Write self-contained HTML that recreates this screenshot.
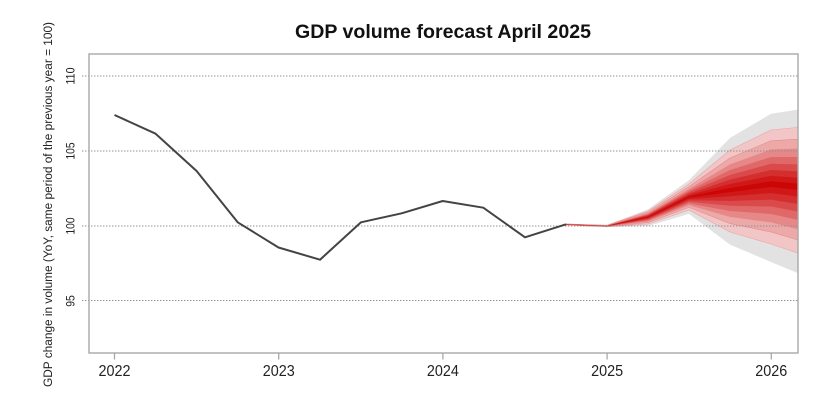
<!DOCTYPE html>
<html>
<head>
<meta charset="utf-8">
<style>
html,body{margin:0;padding:0;background:#fff;}
svg{display:block;}
text{font-family:"Liberation Sans",Arial,sans-serif;fill:#222;}
</style>
</head>
<body>
<svg width="816" height="407" viewBox="0 0 816 407" xmlns="http://www.w3.org/2000/svg">
<defs>
<clipPath id="pc"><rect x="89" y="54" width="709" height="299"/></clipPath>
</defs>

<!-- title -->
<text x="443" y="38" text-anchor="middle" font-size="19" font-weight="bold" textLength="296" lengthAdjust="spacingAndGlyphs" style="fill:#111">GDP volume forecast April 2025</text>

<!-- fan -->
<g clip-path="url(#pc)">
<polygon fill="#e2e2e2" points="566,223.7 607,225 648,209.2 689,180.1 730,138 771,113.8 812,107.4 812,279 771,262 730,244.6 689,213.9 648,226.1 607,227 566,225.3"/>
<polygon fill="#f2c6c6" stroke="#e9a4a4" stroke-width="0.6" points="566,223.9 607,225.2 648,211 689,184 730,150 771,130 812,126 812,258 771,244 730,232 689,210 648,224 607,226.8 566,225.1"/>
<polygon fill="#eda8a8" stroke="#e28c8c" stroke-width="0.6" points="566,224 607,225.4 648,212.2 689,186.6 730,158 771,140.8 812,138.4 812,244 771,232 730,223.6 689,207.4 648,222.6 607,226.6 566,225"/>
<polygon fill="#e78888" points="566,224.1 607,225.5 648,213.2 689,188.7 730,164.4 771,149.4 812,148.3 812,232.8 771,222.4 730,216.9 689,205.3 648,221.5 607,226.5 566,224.9"/>
<polygon fill="#e06868" points="566,224.2 607,225.6 648,214 689,190.5 730,170 771,157 812,157 812,223 771,214 730,211 689,203.5 648,220.5 607,226.4 566,224.8"/>
<polygon fill="#da4a4a" points="566,224.3 607,225.7 648,214.75 689,192.1 730,175 771,163.75 812,164.75 812,214.25 771,206.5 730,205.75 689,201.9 648,219.6 607,226.3 566,224.7"/>
<polygon fill="#d52e2e" points="566,224.35 607,225.8 648,215.4 689,193.6 730,179.6 771,170 812,171.9 812,206.2 771,199.6 730,200.9 689,200.4 648,218.8 607,226.2 566,224.65"/>
<polygon fill="#d01818" points="566,224.4 607,225.9 648,216.1 689,195 730,184 771,175.9 812,178.7 812,198.5 771,193 730,196.3 689,199 648,218 607,226.1 566,224.6"/>
<polygon fill="#cc0505" points="566,224.45 607,225.95 648,216.7 689,196.35 730,188 771,181.3 812,184.9 812,191.5 771,187 730,192.1 689,197.65 648,217.35 607,226.05 566,224.55"/>
</g>

<!-- grid lines -->
<g stroke="#8f8f8f" stroke-width="1" stroke-dasharray="1.4 1.6">
<line x1="82" y1="76" x2="798" y2="76"/>
<line x1="82" y1="151" x2="798" y2="151"/>
<line x1="82" y1="226" x2="798" y2="226"/>
<line x1="82" y1="300.5" x2="798" y2="300.5"/>
</g>

<!-- history line -->
<polyline fill="none" stroke="#444" stroke-width="2" stroke-linejoin="round" points="114.5,115 155.6,133.7 196.6,171 237.7,222.3 278.5,247.5 320,259.7 361,222.3 401.7,213.3 442.7,201 483.3,207.7 525,237.3 566,224.3"/>

<!-- box -->
<rect x="89" y="54" width="709" height="299" fill="none" stroke="#a8a8a8" stroke-width="1.4"/>

<!-- x ticks -->
<g stroke="#a8a8a8" stroke-width="1.3">
<line x1="114.5" y1="353" x2="114.5" y2="359.5"/>
<line x1="278.7" y1="353" x2="278.7" y2="359.5"/>
<line x1="442.9" y1="353" x2="442.9" y2="359.5"/>
<line x1="607.1" y1="353" x2="607.1" y2="359.5"/>
<line x1="771.3" y1="353" x2="771.3" y2="359.5"/>
</g>

<!-- x labels -->
<g font-size="16" text-anchor="middle">
<text x="114.5" y="376" textLength="32" lengthAdjust="spacingAndGlyphs">2022</text>
<text x="278.7" y="376" textLength="32" lengthAdjust="spacingAndGlyphs">2023</text>
<text x="442.9" y="376" textLength="32" lengthAdjust="spacingAndGlyphs">2024</text>
<text x="607.1" y="376" textLength="32" lengthAdjust="spacingAndGlyphs">2025</text>
<text x="771.3" y="376" textLength="32" lengthAdjust="spacingAndGlyphs">2026</text>
</g>

<!-- y labels -->
<g font-size="11.5" text-anchor="middle">
<text transform="translate(74.3,76) rotate(-90)" textLength="17" lengthAdjust="spacingAndGlyphs">110</text>
<text transform="translate(74.3,151) rotate(-90)" textLength="17" lengthAdjust="spacingAndGlyphs">105</text>
<text transform="translate(74.3,226) rotate(-90)" textLength="17" lengthAdjust="spacingAndGlyphs">100</text>
<text transform="translate(74.3,301) rotate(-90)" textLength="11.5" lengthAdjust="spacingAndGlyphs">95</text>
</g>

<!-- y axis title -->
<text transform="translate(51.8,204.5) rotate(-90)" font-size="11.5" text-anchor="middle" textLength="365" lengthAdjust="spacingAndGlyphs">GDP change in volume (YoY, same period of the previous year = 100)</text>
</svg>
</body>
</html>
